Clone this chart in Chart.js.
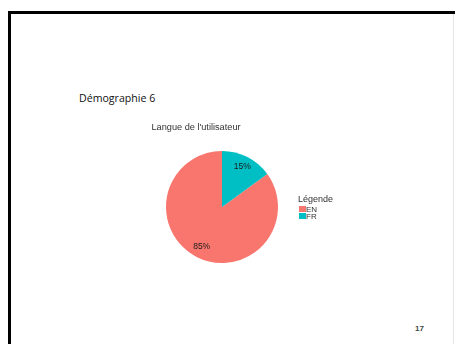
<!DOCTYPE html>
<html>
<head>
<meta charset="utf-8">
<script src="https://cdn.jsdelivr.net/npm/chart.js@4"></script>
<style>
  html, body { margin: 0; padding: 0; background: #fff; }
  #slide { position: relative; width: 455px; height: 344px; overflow: hidden; background: #fff; }
  #frame {
    position: absolute; left: 8px; top: 11px; width: 460px; height: 360px;
    border-left: 3px solid #000; border-top: 3px solid #000; box-sizing: border-box;
  }
  #edge { position: absolute; left: 453px; top: 14px; width: 1px; height: 330px; background: #e6e6e6; }
  #heading {
    position: absolute; left: 79px; top: 91px;
    font-family: "Open Sans", sans-serif; font-size: 10.6px; color: #111;
  }
  #page {
    position: absolute; left: 415px; top: 324px;
    font-family: "Liberation Sans", sans-serif; font-size: 8px; font-weight: bold; color: #444;
  }
  #chart { position: absolute; left: 0; top: 0; }
</style>
</head>
<body>
<div id="slide">
  <div id="frame"></div>
  <div id="edge"></div>
  <div id="heading">Démographie 6</div>
  <div id="page">17</div>
  <canvas id="chart" width="455" height="344"></canvas>
</div>
<script>
const chartTitle = "Langue de l'utilisateur";
const legendTitle = 'Légende';
const languages = ['EN', 'FR'];
const shares = [85, 15];
const sliceColors = ['#F8766D', '#00BFC4'];

// slice labels and legend drawn from the chart's own data
const pieExtras = {
  id: 'pieExtras',
  afterDatasetsDraw(chart) {
    const ctx = chart.ctx;
    const meta = chart.getDatasetMeta(0);
    ctx.save();
    ctx.font = '8.5px "Liberation Sans", Arial, sans-serif';
    ctx.fillStyle = '#1a1a1a';
    ctx.textAlign = 'center';
    ctx.textBaseline = 'middle';
    meta.data.forEach((arc, i) => {
      const mid = (arc.startAngle + arc.endAngle) / 2;
      const r = arc.outerRadius * 0.8;
      ctx.fillText(shares[i] + '%', arc.x + Math.cos(mid) * r, arc.y + Math.sin(mid) * r);
    });

    ctx.font = '9.2px "Liberation Sans", Arial, sans-serif';
    ctx.fillStyle = '#333';
    ctx.textAlign = 'center';
    ctx.fillText(chartTitle, 196, 127);

    ctx.textAlign = 'left';
    ctx.font = '9px "Liberation Sans", Arial, sans-serif';
    ctx.fillText(legendTitle, 298, 200);
    ctx.font = '8px "Liberation Sans", Arial, sans-serif';
    languages.forEach((lab, i) => {
      const y = 206 + i * 7;
      ctx.fillStyle = sliceColors[i];
      ctx.fillRect(299, y, 7, 6);
      ctx.fillStyle = '#333';
      ctx.fillText(lab, 306, y + 3.5);
    });
    ctx.restore();
  }
};

new Chart(document.getElementById('chart'), {
  type: 'pie',
  data: {
    labels: languages,
    datasets: [{
      data: shares,
      backgroundColor: sliceColors,
      borderWidth: 0
    }]
  },
  options: {
    responsive: false,
    animation: false,
    rotation: 54,
    layout: { padding: { left: 166, right: 177, top: 151, bottom: 81 } },
    plugins: {
      legend: { display: false },
      tooltip: { enabled: false }
    }
  },
  plugins: [pieExtras]
});
</script>
</body>
</html>
